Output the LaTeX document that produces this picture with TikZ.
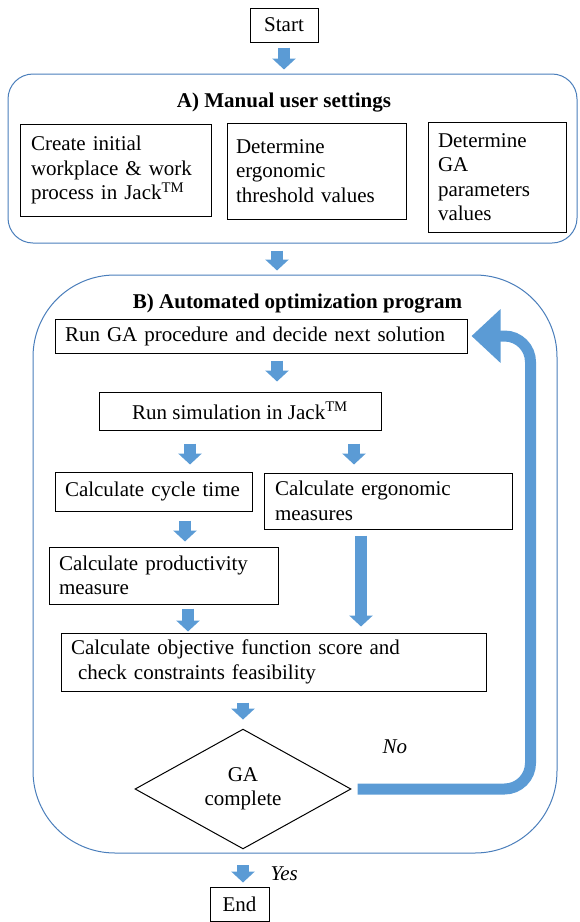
\documentclass[tikz,border=0pt]{standalone}
\usepackage{fontspec}
\setmainfont{Liberation Serif}
\usetikzlibrary{arrows.meta,shapes.geometric}
\definecolor{arrowblue}{HTML}{5B9BD5}
\definecolor{panelblue}{HTML}{4A7EBB}
\newcommand{\flowfont}{\fontsize{21}{24.5}\selectfont}
\tikzset{
  panel/.style={draw=panelblue,line width=1pt},
  plainbox/.style={draw,line width=1pt,inner sep=0pt},
  taskbox/.style={draw,line width=1pt,align=left,inner xsep=10pt,inner ysep=0pt},
  flowarrow/.style={draw=arrowblue,line width=12pt,-{Triangle[length=11pt,width=23pt]}},
  looparrow/.style={draw=arrowblue,line width=11pt,rounded corners=26pt,-{Triangle[length=29pt,width=52pt]}}
}
\begin{document}
\begin{tikzpicture}[x=1pt,y=-1pt,font=\flowfont]
\useasboundingbox (0,0) rectangle (579,922);
\node[panel,rounded corners=25pt,minimum width=569pt,minimum height=169pt] (setA) at (292.5,158.5) {};
\node[panel,rounded corners=82pt,minimum width=524pt,minimum height=578pt] (setB) at (295,564) {};
\node[plainbox,minimum width=68pt,minimum height=34pt] (start) at (284,25) {Start};
\node[anchor=base,font=\flowfont\bfseries] (titleA) at (284,107) {A) Manual user settings};
\node[taskbox,text width=169pt,minimum height=92pt,inner xsep=11pt] (initial) at (115.5,170) {Create initial\\workplace \& work\\process in Jack\textsuperscript{TM}};
\node[taskbox,text width=161pt,minimum height=96pt,inner xsep=9pt] (thresh) at (316.5,171) {Determine\\ergonomic\\threshold values};
\node[taskbox,text width=118pt,minimum height=110pt] (gapar) at (497,177) {Determine\\GA\\parameters\\values};
\node[anchor=base,font=\flowfont\bfseries] (titleB) at (297.5,308) {B) Automated optimization program};
\node[taskbox,text width=392pt,minimum height=34pt] (rga) at (261,336) {Run GA procedure and decide next solution};
\node[plainbox,minimum width=282pt,minimum height=38pt] (sim) at (240,411) {Run simulation in Jack\textsuperscript{TM}};
\node[taskbox,text width=177pt,minimum height=39pt] (cyc) at (153.5,491.5) {Calculate cycle time};
\node[taskbox,text width=226pt,minimum height=56pt,inner xsep=11pt] (erg) at (388,501) {Calculate ergonomic\\measures};
\node[taskbox,text width=209pt,minimum height=57pt] (prod) at (163.5,575.5) {Calculate productivity\\measure};
\node[taskbox,text width=405pt,minimum height=58pt] (obj) at (273.5,662) {Calculate objective function score and\\\ check constraints feasibility};
\node[plainbox,diamond,minimum width=216pt,minimum height=114pt,align=center] (dec) at (243,789) {GA\\complete};
\node[plainbox,minimum width=59pt,minimum height=34pt] (finish) at (239.5,904) {End};
\node[anchor=base west,font=\flowfont\itshape] (nolbl) at (379,753) {No};
\node[anchor=base west,font=\flowfont\itshape] (yeslbl) at (267,880) {Yes};
\draw[flowarrow,shorten <=5pt,shorten >=4pt] (start.south) -- (start.south |- setA.north);
\draw[flowarrow,shorten <=7pt,shorten >=4pt] ([xshift=-15.5pt]setA.south) -- ([xshift=-15.5pt]setA.south |- setB.north);
\draw[flowarrow,shorten <=7pt,shorten >=10pt] ([xshift=16pt]rga.south) -- ([xshift=16pt]rga.south |- sim.north);
\draw[flowarrow,shorten <=13pt,shorten >=7pt] ([xshift=36.5pt]cyc.north |- sim.south) -- ([xshift=36.5pt]cyc.north);
\draw[flowarrow,shorten <=13pt,shorten >=8pt] ([xshift=-34pt]erg.north |- sim.south) -- ([xshift=-34pt]erg.north);
\draw[flowarrow,shorten <=9pt,shorten >=5pt] ([xshift=31.5pt]cyc.south) -- ([xshift=31.5pt]cyc.south |- prod.north);
\draw[flowarrow,shorten <=6pt,shorten >=6pt] ([xshift=-27pt]erg.south) -- ([xshift=-27pt]erg.south |- obj.north);
\draw[flowarrow,shorten <=4pt,shorten >=1pt] ([xshift=24.5pt]prod.south) -- ([xshift=24.5pt]prod.south |- obj.north);
\draw[flowarrow,shorten <=11pt,shorten >=9pt] (dec.north |- obj.south) -- (dec.north);
\draw[flowarrow,shorten <=16pt,shorten >=4pt] (dec.south) -- (dec.south |- finish.north);
\draw[looparrow] ([xshift=6pt]dec.east) -| ([xshift=63pt]rga.east) -- ([xshift=4pt]rga.east);
\end{tikzpicture}
\end{document}
